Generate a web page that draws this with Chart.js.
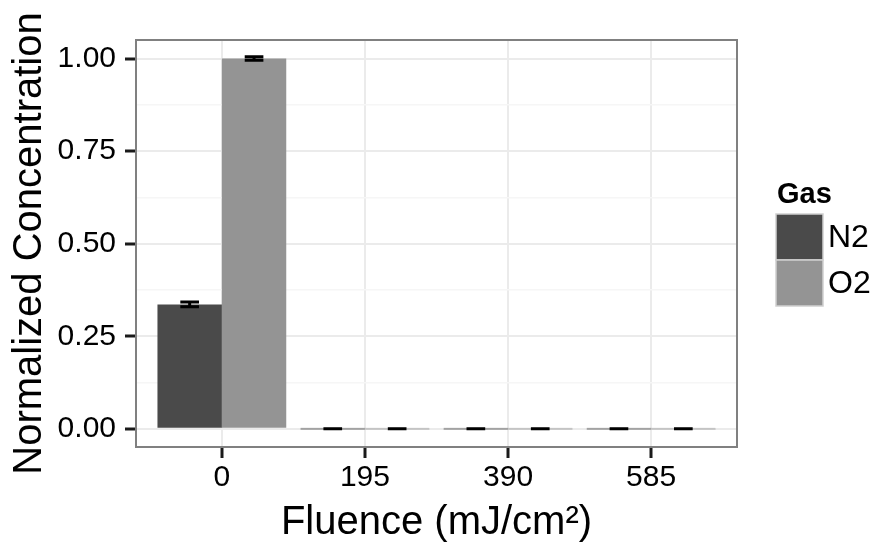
<!DOCTYPE html>
<html>
<head>
<meta charset="utf-8">
<script src="https://cdn.jsdelivr.net/npm/chart.js@4.4.1/dist/chart.umd.min.js"></script>
<style>
  html, body { margin: 0; padding: 0; background: #ffffff; }
  #wrap { width: 876px; height: 546px; }
</style>
</head>
<body>
<div id="wrap"><canvas id="c" width="876" height="546"></canvas></div>
<script>
// ---- data ----
const categories = ['0', '195', '390', '585'];
const seriesNames = ['N2', 'O2'];
const n2Values = [0.336, 0, 0, 0];
const n2Errors = [0.0065, 0, 0, 0];
const o2Values = [1.0, 0, 0, 0];
const o2Errors = [0.005, 0, 0, 0];
const yMajorTicks = [0, 0.25, 0.5, 0.75, 1.0];
const yTickLabels = ['0.00', '0.25', '0.50', '0.75', '1.00'];
const yMinorTicks = [0.125, 0.375, 0.625, 0.875];

const FONT = 'Liberation Sans, Arial, Helvetica, sans-serif';
const colors = ['#4a4a4a', '#949494'];
const errors = [n2Errors, o2Errors];

function toPoints(vals) { return vals.map((v, i) => ({ x: i + 1, y: v })); }

const allYTicks = yMajorTicks.concat(yMinorTicks).sort((a, b) => a - b);
function isMajor(v) { return yMajorTicks.some(m => Math.abs(m - v) < 1e-9); }

const decorPlugin = {
  id: 'decor',
  afterDatasetsDraw(chart) {
    const ctx = chart.ctx;
    const ys = chart.scales.y;
    const y0 = ys.getPixelForValue(0);
    ctx.save();
    chart.data.datasets.forEach((ds, di) => {
      const meta = chart.getDatasetMeta(di);
      meta.data.forEach((el, j) => {
        if (ds.data[j].y === 0) {
          ctx.globalAlpha = 0.45;
          ctx.fillStyle = colors[di];
          ctx.fillRect(el.x - el.width / 2, y0 - 1, el.width, 2);
          ctx.globalAlpha = 1;
        }
      });
    });
    ctx.strokeStyle = '#000000';
    ctx.lineWidth = 3;
    chart.data.datasets.forEach((ds, di) => {
      const meta = chart.getDatasetMeta(di);
      meta.data.forEach((el, j) => {
        const v = ds.data[j].y;
        const e = errors[di][j];
        const top = ys.getPixelForValue(v + e);
        const bot = ys.getPixelForValue(v - e);
        const hw = el.width * 0.145;
        ctx.beginPath();
        ctx.moveTo(el.x - hw, top); ctx.lineTo(el.x + hw, top);
        ctx.moveTo(el.x - hw, bot); ctx.lineTo(el.x + hw, bot);
        ctx.moveTo(el.x, top); ctx.lineTo(el.x, bot);
        ctx.stroke();
      });
    });
    const a = chart.chartArea;
    ctx.strokeStyle = '#808080';
    ctx.lineWidth = 2;
    ctx.strokeRect(a.left, a.top, a.right - a.left, a.bottom - a.top);
    ctx.restore();
  },
  afterDraw(chart) {
    const ctx = chart.ctx;
    ctx.save();
    ctx.fillStyle = '#000';
    ctx.font = 'bold 29px ' + FONT;
    ctx.textAlign = 'left';
    ctx.textBaseline = 'alphabetic';
    ctx.fillText('Gas', 777, 203);
    const bx = 776, bw = 47, bh = 46;
    const tops = [214, 260];
    seriesNames.forEach((name, i) => {
      ctx.fillStyle = colors[i];
      ctx.fillRect(bx, tops[i], bw, bh);
      ctx.strokeStyle = '#d0d0d0';
      ctx.lineWidth = 1.5;
      ctx.strokeRect(bx, tops[i], bw, bh);
      ctx.fillStyle = '#000';
      ctx.font = '32px ' + FONT;
      ctx.textBaseline = 'middle';
      ctx.fillText(name, 828, tops[i] + bh / 2 + 1);
    });
    ctx.restore();
  }
};

new Chart(document.getElementById('c'), {
  type: 'bar',
  data: {
    datasets: [
      { label: seriesNames[0], data: toPoints(n2Values), backgroundColor: colors[0], borderWidth: 0 },
      { label: seriesNames[1], data: toPoints(o2Values), backgroundColor: colors[1], borderWidth: 0 }
    ]
  },
  options: {
    responsive: false,
    animation: false,
    events: [],
    layout: { padding: { left: 0, right: 139, top: 40, bottom: 0 } },
    datasets: { bar: { categoryPercentage: 0.9, barPercentage: 1.0 } },
    plugins: { legend: { display: false }, tooltip: { enabled: false } },
    scales: {
      x: {
        type: 'linear',
        min: 0.4, max: 4.6,
        offset: false,
        afterBuildTicks: (s) => { s.ticks = categories.map((c, i) => ({ value: i + 1 })); },
        afterFit: (s) => { s.height = 99; },
        ticks: {
          autoSkip: false,
          maxRotation: 0,
          padding: 2,
          color: '#000',
          font: { family: FONT, size: 30, lineHeight: 1.2 },
          callback: (v, i) => categories[i]
        },
        grid: { offset: false, color: '#ebebeb', lineWidth: 2, tickLength: 11, tickColor: '#1a1a1a', tickWidth: 3 },
        border: { display: false },
        title: {
          display: true,
          text: 'Fluence (mJ/cm²)',
          color: '#000',
          font: { family: FONT, size: 40, lineHeight: 1 },
          padding: { top: 0, bottom: 3 }
        }
      },
      y: {
        type: 'linear',
        min: -0.049, max: 1.05,
        afterBuildTicks: (s) => { s.ticks = allYTicks.map(v => ({ value: v })); },
        afterFit: (s) => { s.width = 136; },
        ticks: {
          autoSkip: false,
          padding: 9,
          color: '#000',
          font: { family: FONT, size: 30, lineHeight: 1.2 },
          callback: (v) => isMajor(v) ? yTickLabels[yMajorTicks.findIndex(m => Math.abs(m - v) < 1e-9)] : ''
        },
        grid: {
          color: (c) => isMajor(c.tick.value) ? '#ebebeb' : '#f6f6f6',
          lineWidth: (c) => isMajor(c.tick.value) ? 2 : 1.5,
          tickLength: 11,
          tickColor: (c) => isMajor(c.tick.value) ? '#1a1a1a' : 'rgba(0,0,0,0)',
          tickWidth: 3
        },
        border: { display: false },
        title: {
          display: true,
          text: 'Normalized Concentration',
          color: '#000',
          font: { family: FONT, size: 40, lineHeight: 1 },
          padding: { top: 10, bottom: 0 }
        }
      }
    }
  },
  plugins: [decorPlugin]
});
</script>
</body>
</html>
